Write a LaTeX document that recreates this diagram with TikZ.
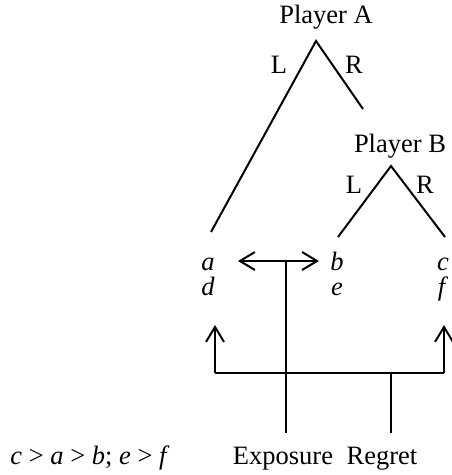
\documentclass[tikz,border=0pt]{standalone}
\usepackage{fontspec}
\setmainfont{Liberation Serif}
\usetikzlibrary{arrows.meta}
\begin{document}
\begin{tikzpicture}[x=1pt,y=-1pt,
  line width=2pt,
  lbl/.style={inner sep=0pt,anchor=base,font=\fontsize{26.5}{31}\selectfont},
  branch/.style={line cap=butt},
  tip/.tip={Straight Barb[length=15pt,width=18pt,line width=2pt]},
  barb/.style={-tip},
  dbarb/.style={tip-tip}]
\useasboundingbox (0,0) rectangle (451,475);

% game tree
\node[lbl] (pa) at (326,23) {Player A};
\coordinate (A) at (316,41);
\coordinate (AL) at (211,232);
\coordinate (AR) at (363,109);
\node[lbl] (la) at (279,73.5) {L};
\node[lbl] (ra) at (354,73.5) {R};
\draw[branch] (AL) -- (A) -- (AR);

\node[lbl] (pb) at (400,152) {Player B};
\coordinate (B) at (391,166);
\coordinate (BL) at (338,237);
\coordinate (BR) at (445,237);
\node[lbl] (lb) at (354,193.5) {L};
\node[lbl] (rb) at (425,193.5) {R};
\draw[branch] (BL) -- (B) -- (BR);

% payoffs
\node[lbl] (a) at (208,270) {\textit{a}};
\node[lbl] (d) at (208,295) {\textit{d}};
\node[lbl] (b) at (337,270) {\textit{b}};
\node[lbl] (e) at (337,295) {\textit{e}};
\node[lbl] (c) at (443,270) {\textit{c}};
\node[lbl] (f) at (443,295) {\textit{f}};

% exposure and regret connectors
\coordinate (xl) at (238,261);
\coordinate (xr) at (319,261);
\coordinate (xm) at (286,261);
\coordinate (xb) at (286,433);
\coordinate (hl) at (215,373);
\coordinate (hr) at (444,373);
\coordinate (tl) at (215,325);
\coordinate (tr) at (444,325);
\coordinate (rt) at (391,373);
\coordinate (rb2) at (391,433);
\draw[dbarb] (xl) -- (xr);
\draw (xm) -- (xb);
\draw[barb] (hl) -- (tl);
\draw[barb] (hr) -- (tr);
\draw (hl) -- (hr);
\draw (rt) -- (rb2);

% bottom labels
\node[lbl] (exp) at (283,464) {Exposure};
\node[lbl] (reg) at (382,464) {Regret};
\node[lbl] (ord) at (90,464) {\textit{c} > \textit{a} > \textit{b}; \textit{e} > \textit{f}};
\end{tikzpicture}
\end{document}
